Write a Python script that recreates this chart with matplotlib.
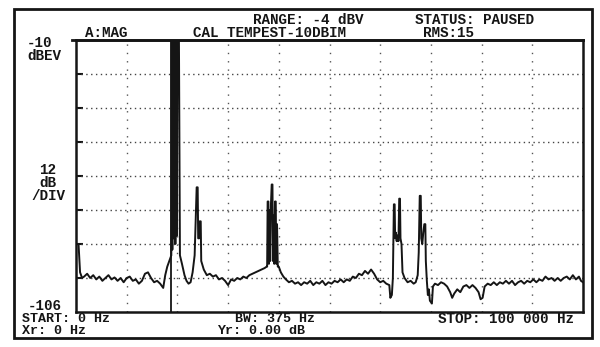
import matplotlib
matplotlib.use("Agg")
import matplotlib.pyplot as plt
from matplotlib.patches import Rectangle

# trace: frequency (kHz) and level (dBV)
freq_khz = [
    0.0, 0.5, 0.8, 1.2, 1.6, 2.2, 2.8, 3.4, 4.0, 4.6, 5.2, 5.8, 6.4, 7.0, 7.6, 8.2, 8.8,
    9.4, 10.0, 10.6, 11.2, 11.8, 12.4, 13.0, 13.6, 14.2, 14.8, 15.4, 16.0, 16.6, 17.2,
    17.6, 18.0, 18.4, 18.8,
    18.9, 19.0, 19.15, 19.3, 19.45, 19.6, 19.75, 19.9, 20.0, 20.3, 20.5,
    20.9, 21.4, 21.8, 22.2, 22.6, 23.0, 23.4, 23.8, 24.0, 24.1, 24.3, 24.4, 24.6, 24.7,
    25.2, 25.8, 26.4, 27.0, 27.6, 28.2, 28.8, 29.4, 30.0, 30.6, 31.2, 31.8, 32.4, 33.0,
    33.6, 34.2, 34.8, 35.4, 36.0, 36.6, 37.2, 37.6,
    37.7, 37.8, 37.95, 38.05, 38.15, 38.3, 38.45, 38.6, 38.75, 38.85, 38.95, 39.1,
    39.25, 39.4, 39.5, 39.65, 39.8, 40.0,
    40.4, 40.9, 41.4, 42.0, 42.6, 43.2, 43.8, 44.4, 45.0, 45.6, 46.2, 46.8, 47.4, 48.0,
    48.6, 49.2, 49.8, 50.4, 51.0, 51.6, 52.2, 52.8, 53.4, 54.0, 54.6, 55.2, 55.8, 56.4,
    57.0, 57.6, 58.2, 58.8, 59.4, 60.0, 60.6, 61.2, 61.8, 62.0, 62.3, 62.5,
    62.6, 62.7, 62.85, 62.95, 63.1, 63.25, 63.4, 63.6, 63.75, 63.9, 64.0, 64.2,
    64.4, 64.8, 65.4, 66.0, 66.6, 67.0, 67.4,
    67.6, 67.8, 68.0, 68.1, 68.3, 68.5, 68.7, 68.9, 69.0, 69.2, 69.4, 69.6, 69.8,
    70.2, 70.4, 70.8, 71.4, 72.0, 72.6, 73.2, 73.8, 74.2, 74.6, 75.2, 75.8, 76.4, 77.0,
    77.6, 78.2, 78.8, 79.4, 79.8, 80.2, 80.6, 81.2, 81.8, 82.4, 83.0, 83.6, 84.2, 84.8,
    85.4, 86.0, 86.6, 87.2, 87.8, 88.4, 89.0, 89.6, 90.2, 90.8, 91.4, 92.0, 92.6, 93.2,
    93.8, 94.4, 95.0, 95.6, 96.2, 96.8, 97.4, 98.0, 98.6, 99.2, 99.6, 100.0,
]
level_dbv = [
    -82, -82, -92, -94, -93.5, -92.5, -94, -93, -94.5, -93.5, -95, -94, -93, -94.5, -93.8, -95, -94,
    -95.5, -94, -93.5, -95, -94.5, -96, -95, -92.5, -92, -94, -95.5, -95, -96, -97.5,
    -93, -90, -88, -86,
    -8, -84, -8, -80, -8, -82, -8, -79, -8, -8, -86,
    -89, -93, -95, -96, -95.5, -92, -86, -62, -62, -80, -80, -74, -74, -88,
    -91, -93, -92.5, -93.5, -93, -94.5, -94, -95, -96.5, -94.5, -95, -94, -94.5, -93.5,
    -94, -93, -92.5, -92, -91.5, -91, -90.5, -90,
    -90, -67, -67, -89, -70, -88, -68, -61, -61, -88, -72, -89,
    -67, -67, -89, -75, -90, -90,
    -92, -93.5, -94.5, -95.5, -95, -96, -95.5, -96.5, -95.5, -96, -95, -96.5, -95.5, -96,
    -95, -96.5, -95.5, -96, -95, -95.5, -94.5, -95.5, -94.5, -95, -93.5, -94, -92.5, -93,
    -91.5, -92.5, -91, -92.5, -94.5, -95.5, -95, -96, -96.5, -101, -100, -94,
    -80, -68, -68, -80, -78, -81, -79, -81, -66, -66, -80, -82,
    -92, -94, -95.5, -95, -96, -95.5, -93,
    -85, -65, -65, -80, -82, -78, -75, -75, -88, -95, -100, -98, -102,
    -103, -97, -96, -96.5, -95.5, -96, -97, -99, -101, -99.5, -98, -99, -97, -96.5,
    -97.5, -96.5, -97.5, -99, -101.5, -101, -97, -96, -96.5, -95.5, -96.5, -95.5, -96, -95,
    -96, -95, -96.5, -95.5, -95, -96, -95, -95.5, -94.5, -95.5, -94.5, -95, -93.5, -94.5,
    -94, -95, -94, -95, -94, -93.5, -94.5, -93, -94.5, -93.5, -95, -95.5,
]
marker_khz = 18.7
y_grid = [-22, -34, -46, -58, -70, -82, -94]
x_grid = [10, 20, 30, 40, 50, 60, 70, 80, 90]

ink = "#151515"
mono = dict(family="Liberation Mono", fontweight="bold", fontsize=10.3, color=ink)
mono_sm = dict(mono, fontsize=9.6)

W, H = 600, 347
fig = plt.figure(figsize=(W / 100, H / 100), dpi=100)

# background layer in pixel coords for the frame and the screen text
bg = fig.add_axes([0, 0, 1, 1])
bg.set_xlim(0, W); bg.set_ylim(H, 0); bg.axis("off")
bg.add_patch(Rectangle((14, 9), 578, 329, fill=False, lw=2.0, ec=ink))
bg.plot([72, 583], [40, 40], color=ink, lw=2.0)

L, R, T, B = 76, 583, 40, 312
ax = fig.add_axes([L / W, 1 - B / H, (R - L) / W, (B - T) / H])
ax.set_facecolor("none")
ax.set_xlim(0, 100); ax.set_ylim(-106, -10)
for s in ax.spines.values():
    s.set_linewidth(1.8); s.set_color(ink)
ax.set_xticks([])
ax.set_yticks(y_grid)
ax.set_yticklabels([])
ax.tick_params(axis="y", direction="in", length=5, width=1.5, color=ink)

for yv in y_grid:
    ax.axhline(yv, color="#444444", lw=1.0, ls=(0, (1, 2.5)))
for xv in x_grid:
    ax.axvline(xv, color="#555555", lw=1.0, ls=(0, (1, 5)))

ax.axvline(marker_khz, color=ink, lw=1.3)
ax.plot(freq_khz, level_dbv, color=ink, lw=1.4)

# screen annotations
bg.text(253, 20, "RANGE: -4 dBV", va="center", ha="left", **mono)
bg.text(415, 20, "STATUS: PAUSED", va="center", ha="left", **mono)
bg.text(85, 33, "A:MAG", va="center", ha="left", **mono)
bg.text(193, 33, "CAL TEMPEST-10DBIM", va="center", ha="left", **mono)
bg.text(423, 33, "RMS:15", va="center", ha="left", **mono)
bg.text(27, 43, "-10", va="center", ha="left", **mono)
bg.text(27, 56, "dBEV", va="center", ha="left", **mono)
bg.text(48, 170, "12", va="center", ha="center", **mono)
bg.text(48, 183, "dB", va="center", ha="center", **mono)
bg.text(48, 196, "/DIV", va="center", ha="center", **mono)
bg.text(28, 306, "-106", va="center", ha="left", **mono)
bg.text(22, 319, "START: 0 Hz", va="center", ha="left", **mono_sm)
bg.text(22, 331, "Xr: 0 Hz", va="center", ha="left", **mono_sm)
bg.text(235, 319, "BW: 375 Hz", va="center", ha="left", **mono_sm)
bg.text(217, 331, "Yr: 0.00 dB", va="center", ha="left", **mono_sm)
bg.text(438, 319, "STOP: 100 000 Hz", va="center", ha="left", **mono)

fig.savefig("out.png", dpi=100)
